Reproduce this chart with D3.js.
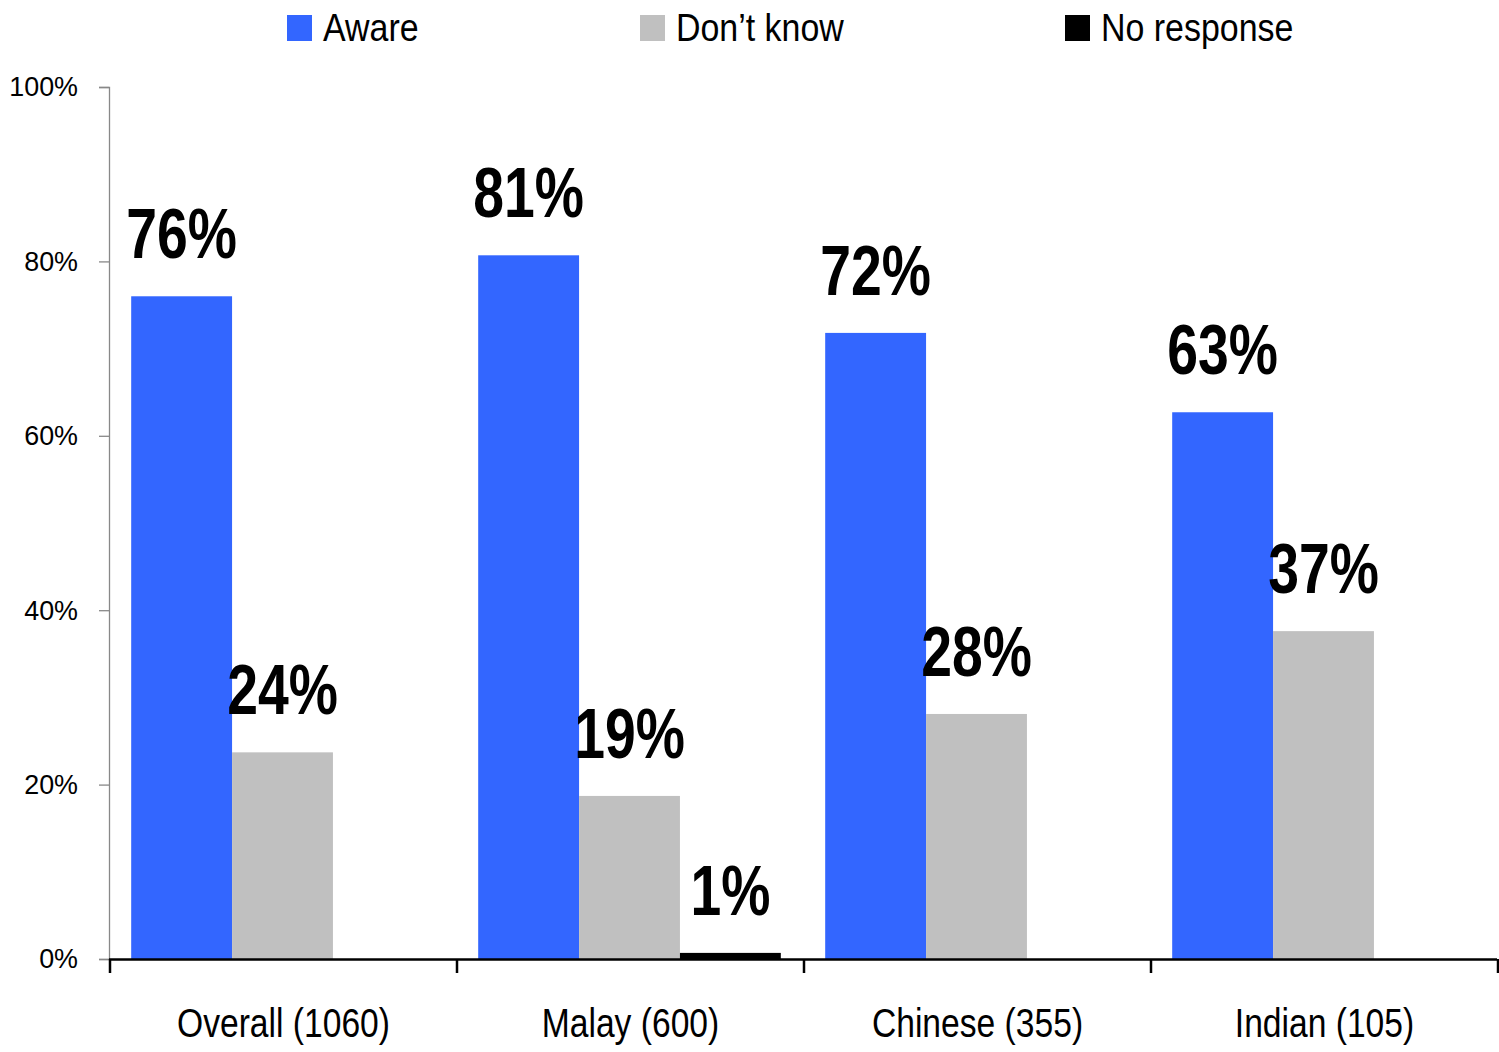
<!DOCTYPE html>
<html><head><meta charset="utf-8">
<script src="https://cdn.jsdelivr.net/npm/d3@7"></script>
<style>
body{margin:0;background:#fff;}
text{font-family:"Liberation Sans Narrow","Arial Narrow","Liberation Sans",Arial,sans-serif;}
</style></head>
<body><svg id="c" width="1499" height="1052"></svg>
<script>
const categories = ["Overall (1060)", "Malay (600)", "Chinese (355)", "Indian (105)"];
const seriesNames = ["Aware", "Don\u2019t know", "No response"];
const aware = [76, 81, 72, 63];
const dontKnow = [24, 19, 28, 37];
const noResponse = [null, 1, null, null];
const awareBar = [76.0, 80.7, 71.8, 62.7];
const dontKnowBar = [23.7, 18.7, 28.1, 37.6];
const noResponseBar = [0, 0.7, 0, 0];
const yTicks = [0, 20, 40, 60, 80, 100];
const colors = ["#3366FF", "#C0C0C0", "#000000"];

const svg = d3.select("#c");
const mLeft = 109, mRight = 1497, mTop = 87, mBottom = 959;
const x0 = d3.scaleBand().domain(categories).range([mLeft, mRight]).padding(0);
const x1 = d3.scaleBand().domain(seriesNames).range([0, x0.bandwidth()]).paddingInner(0).paddingOuter(0.22);
const y = d3.scaleLinear().domain([0, 100]).range([mBottom, mTop]);

const barVals = [awareBar, dontKnowBar, noResponseBar];
const labVals = [aware, dontKnow, noResponse];

// condensed text helper (narrow font not installed)
function narrowText(sel, x, yy, sx) {
  return sel.attr("transform", d => `translate(${x(d)},${yy(d)}) scale(${sx},1)`);
}

// y axis
const yAxis = svg.append("g").attr("transform", `translate(${mLeft},0)`)
  .call(d3.axisLeft(y).tickValues(yTicks).tickFormat(d => d + "%").tickSize(10).tickPadding(21));
yAxis.select(".domain").attr("stroke", "#888").attr("stroke-width", 1.3);
yAxis.selectAll(".tick line").attr("stroke", "#888").attr("stroke-width", 1.3);
yAxis.selectAll(".tick text").attr("font-size", 28).attr("fill", "#000")
  .style("font-family", '"Liberation Sans Narrow","Arial Narrow","Liberation Sans",sans-serif')
  .attr("x", 0).attr("transform", "translate(-31,0) scale(0.96,1)");

// bars
seriesNames.forEach((s, si) => {
  svg.append("g").selectAll("rect").data(categories).join("rect")
    .attr("x", c => x0(c) + x1(s))
    .attr("width", x1.bandwidth())
    .attr("y", (c, i) => y(barVals[si][i]))
    .attr("height", (c, i) => y(0) - y(barVals[si][i]))
    .attr("fill", colors[si]);
  const lab = svg.append("g").selectAll("text").data(categories.filter((c, i) => labVals[si][i] != null)).join("text")
    .attr("text-anchor", "middle")
    .attr("font-size", 70).attr("font-weight", "bold")
    .text(c => labVals[si][categories.indexOf(c)] + "%");
  narrowText(lab, c => x0(c) + x1(s) + x1.bandwidth() / 2,
    c => y(barVals[si][categories.indexOf(c)]) - 38, 0.79);
});

// x axis
const xAxis = svg.append("g").attr("transform", `translate(0,${mBottom})`);
xAxis.append("line").attr("x1", mLeft).attr("x2", mRight).attr("y1", 0.5).attr("y2", 0.5)
  .attr("stroke", "#000").attr("stroke-width", 2.5);
const bounds = categories.map(c => x0(c)).concat([mRight]);
xAxis.selectAll("line.t").data(bounds).join("line").attr("class", "t")
  .attr("x1", d => d + 1).attr("x2", d => d + 1).attr("y1", 0).attr("y2", 14)
  .attr("stroke", "#000").attr("stroke-width", 2.5);
const xl = xAxis.selectAll("text").data(categories).join("text")
  .attr("text-anchor", "middle").attr("font-size", 41)
  .text(c => c);
narrowText(xl, c => x0(c) + x0.bandwidth() / 2 + 1, () => 78, 0.82);

// legend
const legX = [287, 640, 1065];
const leg = svg.append("g");
seriesNames.forEach((s, i) => {
  leg.append("rect").attr("x", legX[i]).attr("y", 15).attr("width", 25).attr("height", 26).attr("fill", colors[i]);
  leg.append("text").attr("font-size", 39).text(s)
    .attr("transform", `translate(${legX[i] + 36},41) scale(0.87,1)`);
});
</script></body></html>
